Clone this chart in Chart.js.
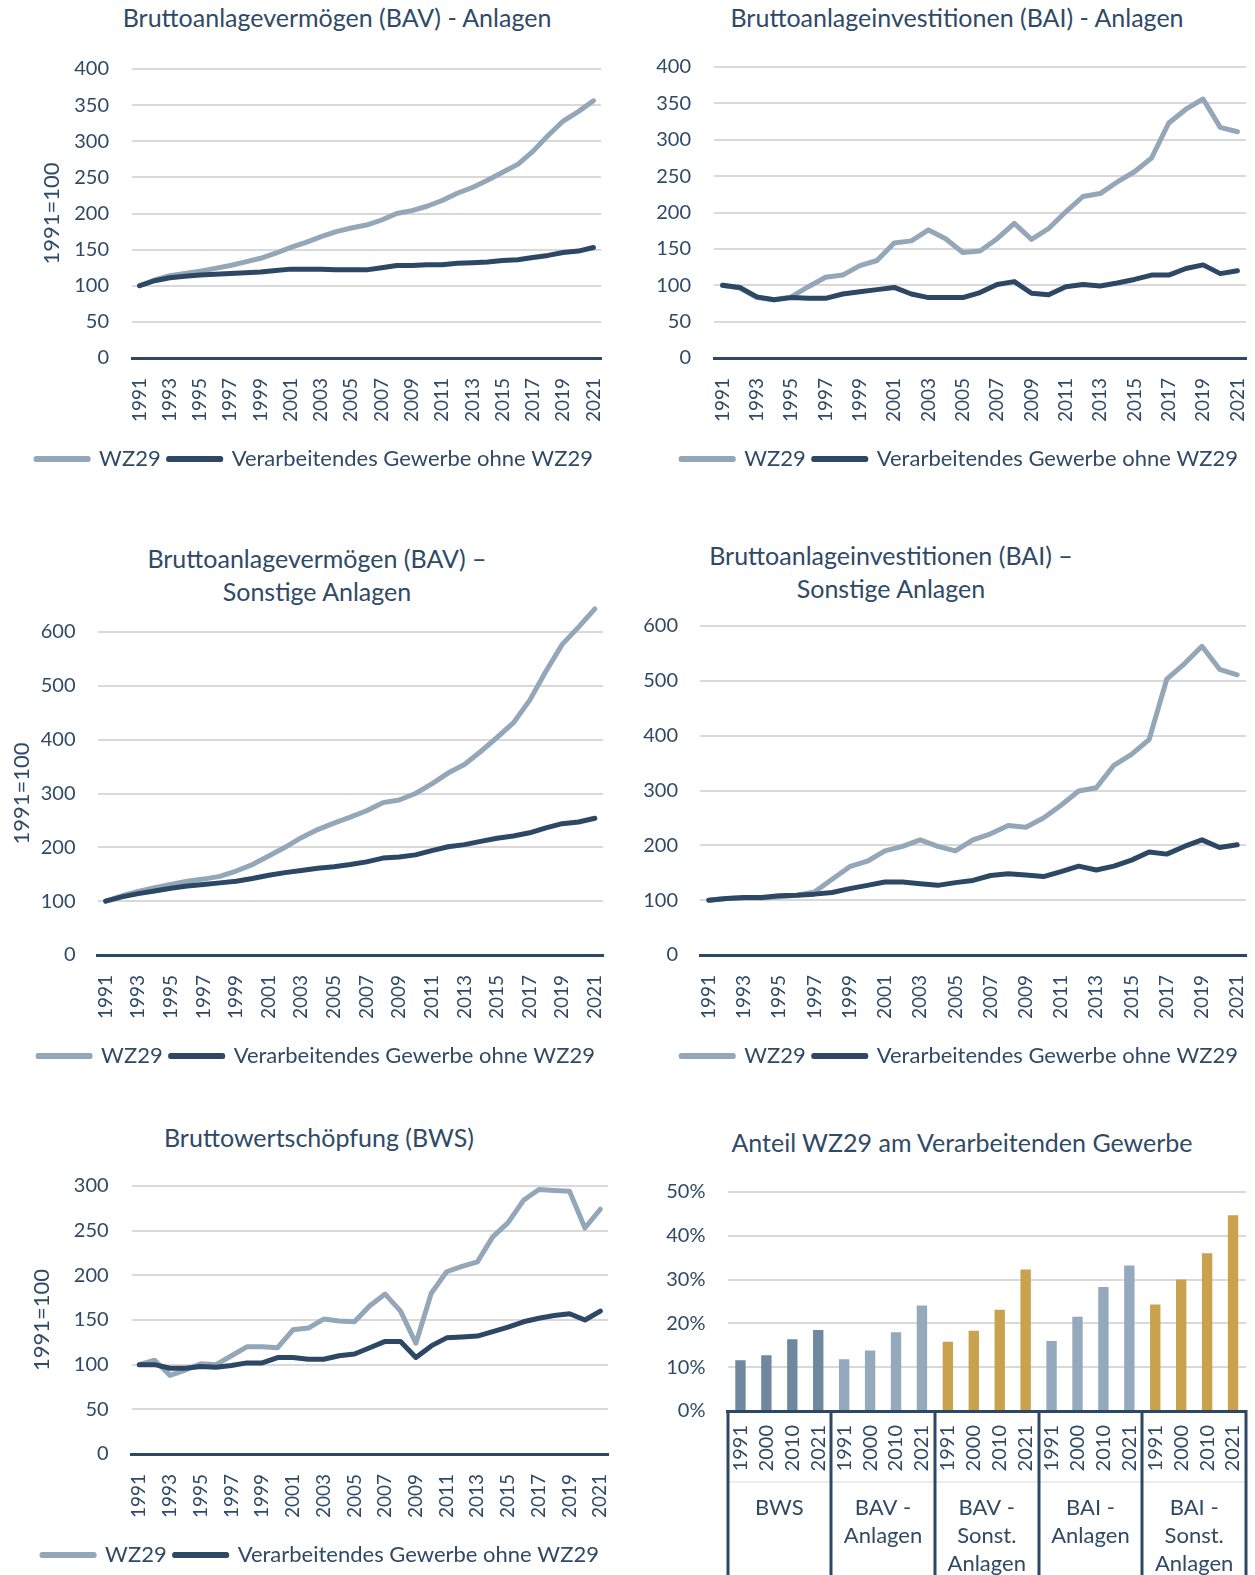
<!DOCTYPE html>
<html>
<head>
<meta charset="utf-8">
<script src="https://cdn.jsdelivr.net/npm/chart.js@4.4.1/dist/chart.umd.min.js"></script>
<style>
  html, body { margin: 0; padding: 0; background: #fff; overflow: hidden; }
  body { width: 1255px; height: 1575px; position: relative; }
  canvas { position: absolute; }
  .title {
    position: absolute; width: 600px; text-align: center;
    font-family: Lato, sans-serif; font-size: 25px; color: #2f4a66;
    line-height: 33px; white-space: nowrap;
  }
</style>
</head>
<body>
<div class="title" style="left:37px; top:1px;">Bruttoanlagevermögen (BAV) - Anlagen</div>
<div class="title" style="left:657px; top:1px;">Bruttoanlageinvestitionen (BAI) - Anlagen</div>
<div class="title" style="left:17px; top:542px;">Bruttoanlagevermögen (BAV) –<br>Sonstige Anlagen</div>
<div class="title" style="left:591px; top:539px;">Bruttoanlageinvestitionen (BAI) –<br>Sonstige Anlagen</div>
<div class="title" style="left:19px; top:1121px;">Bruttowertschöpfung (BWS)</div>
<div class="title" style="left:662px; top:1126px;">Anteil WZ29 am Verarbeitenden Gewerbe</div>

<canvas id="c1" width="633" height="485" style="left:0; top:0;"></canvas>
<canvas id="c2" width="658" height="485" style="left:620px; top:0;"></canvas>
<canvas id="c3" width="635" height="545" style="left:0; top:535px;"></canvas>
<canvas id="c4" width="658" height="545" style="left:620px; top:535px;"></canvas>
<canvas id="c5" width="640" height="468" style="left:0; top:1110px;"></canvas>
<canvas id="c6" width="658" height="492" style="left:620px; top:1110px;"></canvas>

<script>
// categories
const years = ["1991","1992","1993","1994","1995","1996","1997","1998","1999","2000",
  "2001","2002","2003","2004","2005","2006","2007","2008","2009","2010",
  "2011","2012","2013","2014","2015","2016","2017","2018","2019","2020","2021"];

// Bruttoanlagevermögen - Anlagen (1991=100)
const bavAnlagenWZ29 = [100,108,114,117,120,124,128,133,138,145,153,160,168,175,180,184,191,200,204,210,218,228,236,246,257,268,286,308,328,341,356];
const bavAnlagenOhne = [100,107,111,113,115,116,117,118,119,121,123,123,123,122,122,122,125,128,128,129,129,131,132,133,135,136,139,142,146,148,153];

// Bruttoanlageinvestitionen - Anlagen
const baiAnlagenWZ29 = [100,96,83,80,84,98,111,114,127,134,158,161,176,164,145,147,164,185,163,178,201,222,226,242,256,275,323,342,356,317,311];
const baiAnlagenOhne = [100,97,84,80,83,82,82,88,91,94,97,88,83,83,83,90,101,105,89,87,98,101,99,103,108,114,114,123,128,116,120];

// Bruttoanlagevermögen - Sonstige Anlagen
const bavSonstWZ29 = [100,110,118,125,131,137,141,146,156,168,184,200,218,233,245,256,268,283,288,300,318,338,354,378,404,431,473,527,577,609,643];
const bavSonstOhne = [100,108,114,119,124,128,131,134,137,142,148,153,157,161,164,168,173,180,182,186,194,201,205,211,217,221,227,236,244,247,254];

// Bruttoanlageinvestitionen - Sonstige Anlagen
const baiSonstWZ29 = [100,103,104,104,106,109,115,138,161,171,190,198,210,198,190,210,221,236,233,250,273,299,305,346,366,393,503,531,563,521,511];
const baiSonstOhne = [100,103,105,105,108,109,111,114,121,127,133,133,130,127,132,136,145,148,146,143,152,162,155,162,173,188,184,198,210,196,201];

// Bruttowertschöpfung
const bwsWZ29 = [100,105,88,94,101,100,110,120,120,119,139,141,151,149,148,166,179,160,124,180,204,210,215,243,259,284,296,295,294,253,274];
const bwsOhne = [100,100,96,96,98,97,99,102,102,108,108,106,106,110,112,119,126,126,108,121,130,131,132,137,142,148,152,155,157,150,160];

// Anteil WZ29 am Verarbeitenden Gewerbe (%)
const shareYears = ["1991","2000","2010","2021"];
const shareGroups = [["BWS"], ["BAV -","Anlagen"], ["BAV -","Sonst.","Anlagen"], ["BAI -","Anlagen"], ["BAI -","Sonst.","Anlagen"]];
const shareBWS = [11.6, 12.7, 16.4, 18.5];
const shareBAVAnlagen = [11.8, 13.8, 18.0, 24.1];
const shareBAVSonst = [15.8, 18.3, 23.1, 32.3];
const shareBAIAnlagen = [16.0, 21.5, 28.3, 33.2];
const shareBAISonst = [24.3, 30.0, 36.0, 44.7];

const TEXT = '#2f4a66';
const LIGHT = '#93a7b9';
const DARK = '#2c4864';
const GRID = '#d9d9d9';

Chart.defaults.font.family = 'Lato';
Chart.defaults.color = TEXT;

const noZeroGrid = (c) => c.tick && c.tick.value === 0 ? 'rgba(0,0,0,0)' : GRID;

function lineChart(id, wz, ohne, max, step, lay) {
  const ds = (label, data, color, order) => ({
    label, data, order,
    borderColor: color, backgroundColor: color,
    borderWidth: 5, pointRadius: 0, tension: 0,
    borderJoinStyle: 'round', borderCapStyle: 'round',
    fill: false, clip: false
  });
  return new Chart(document.getElementById(id), {
    type: 'line',
    data: {
      labels: years,
      datasets: [
        ds('WZ29', wz, LIGHT, 2),
        ds('Verarbeitendes Gewerbe ohne WZ29', ohne, DARK, 1)
      ]
    },
    options: {
      responsive: false,
      devicePixelRatio: 1,
      animation: false,
      layout: { padding: { left: lay.pl, right: 32, top: lay.pt, bottom: lay.pb } },
      plugins: {
        tooltip: { enabled: false },
        legend: {
          position: 'bottom',
          align: lay.legendAlign || 'center',
          labels: {
            boxWidth: 52, boxHeight: 1, padding: 8,
            font: { size: 22 }, color: TEXT,
            sort: (a, b) => a.datasetIndex - b.datasetIndex
          }
        }
      },
      scales: {
        x: {
          offset: true,
          grid: { display: false },
          border: { color: DARK, width: 3 },
          ticks: {
            autoSkip: false, maxRotation: 90, minRotation: 90, padding: 12,
            font: { size: 19 }, color: TEXT,
            callback: function (v, i) { return i % 2 === 0 ? this.getLabelForValue(v) : ''; }
          },
          afterFit: (s) => { s.height = lay.xh; }
        },
        y: {
          min: 0, max: max,
          border: { display: false },
          grid: { drawTicks: false, lineWidth: 2, color: noZeroGrid },
          ticks: { stepSize: step, padding: lay.tp, font: { size: 20 }, color: TEXT },
          title: {
            display: !!lay.ytitle, text: '1991=100',
            font: { size: 22 }, color: TEXT,
            padding: { top: lay.ytp || 0, bottom: 0 }
          },
          afterFit: (s) => { s.width = lay.yw; }
        }
      }
    }
  });
}

lineChart('c1', bavAnlagenWZ29, bavAnlagenOhne, 400, 50, { pl: 28, pt: 69, pb: 5, xh: 82, yw: 104, tp: 23, ytitle: true, ytp: 11 });
lineChart('c2', baiAnlagenWZ29, baiAnlagenOhne, 400, 50, { pl: 20, pt: 67, pb: 5, xh: 82, yw: 74, tp: 23, legendAlign: 'end' });
lineChart('c3', bavSonstWZ29, bavSonstOhne, 600, 100, { pl: 30, pt: 97, pb: 3, xh: 82, yw: 67.5, tp: 22, ytitle: true, ytp: -21 });
lineChart('c4', baiSonstWZ29, baiSonstOhne, 600, 100, { pl: 18, pt: 91, pb: 3, xh: 82, yw: 62, tp: 22, legendAlign: 'end' });
lineChart('c5', bwsWZ29, bwsOhne, 300, 50, { pl: 33, pt: 76, pb: 2, xh: 82, yw: 98.6, tp: 23, ytitle: true, ytp: -4 });

// bar chart: 5 groups x 4 years
const groupColors = ['#70889d', '#94a9bb', '#c9a24e', '#94a9bb', '#c9a24e'];
const shareSeries = [shareBWS, shareBAVAnlagen, shareBAVSonst, shareBAIAnlagen, shareBAISonst];
const barLabels = [];
const barValues = [];
const barColors = [];
shareSeries.forEach((vals, g) => {
  vals.forEach((v, k) => {
    barLabels.push(shareYears[k]);
    barValues.push(v);
    barColors.push(groupColors[g]);
  });
});

const groupSeparators = {
  id: 'groupSeparators',
  afterDraw(chart) {
    const x = chart.scales.x;
    const ctx = chart.ctx;
    const area = chart.chartArea;
    ctx.save();
    // faint line between the year row and the group row
    ctx.strokeStyle = GRID;
    ctx.lineWidth = 1;
    ctx.beginPath();
    ctx.moveTo(area.left, x.bottom);
    ctx.lineTo(area.right, x.bottom);
    ctx.stroke();
    ctx.strokeStyle = DARK;
    ctx.lineWidth = 3;
    for (let g = 0; g <= shareGroups.length; g++) {
      const px = Math.round(x.getPixelForValue(g * shareYears.length - 0.5));
      ctx.beginPath();
      ctx.moveTo(px, area.bottom - 1);
      ctx.lineTo(px, chart.height);
      ctx.stroke();
    }
    ctx.restore();
  }
};

new Chart(document.getElementById('c6'), {
  type: 'bar',
  data: {
    labels: barLabels,
    datasets: [{
      label: 'Anteil WZ29',
      data: barValues,
      backgroundColor: barColors,
      barPercentage: 0.4,
      categoryPercentage: 1
    }]
  },
  options: {
    responsive: false,
    devicePixelRatio: 1,
    animation: false,
    layout: { padding: { left: 0, right: 32, top: 82, bottom: 0 } },
    plugins: { legend: { display: false }, tooltip: { enabled: false } },
    scales: {
      x: {
        offset: true,
        weight: 0,
        grid: { display: false },
        border: { color: DARK, width: 3 },
        ticks: { autoSkip: false, maxRotation: 90, minRotation: 90, padding: 6, font: { size: 20 }, color: TEXT },
        afterFit: (s) => { s.height = 71; }
      },
      x2: {
        type: 'category',
        labels: shareGroups,
        position: 'bottom',
        offset: true,
        weight: 1,
        grid: { display: false },
        border: { display: false },
        ticks: { autoSkip: false, maxRotation: 0, minRotation: 0, padding: 4, font: { size: 22, lineHeight: 1.28 }, color: TEXT },
        afterFit: (s) => { s.height = 120; }
      },
      y: {
        min: 0, max: 50,
        border: { display: false },
        grid: { drawTicks: false, lineWidth: 2, color: noZeroGrid },
        ticks: { stepSize: 10, padding: 22, font: { size: 20 }, color: TEXT, callback: (v) => v + '%' },
        afterFit: (s) => { s.width = 107.5; }
      }
    }
  },
  plugins: [groupSeparators]
});
</script>
</body>
</html>
